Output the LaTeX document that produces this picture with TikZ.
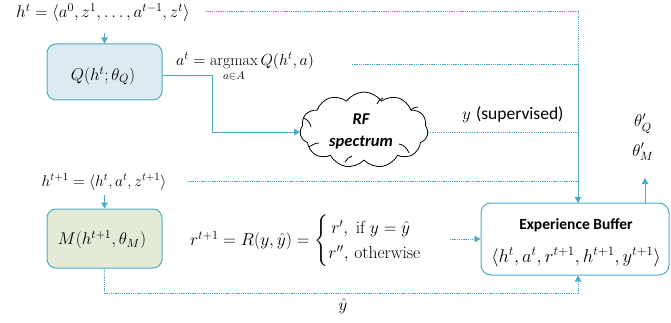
\RequirePackage{fix-cm}
\documentclass[tikz,border=0pt]{standalone}
\usepackage{amsmath}
\usepackage{fontspec}
\usetikzlibrary{shapes.symbols,arrows.meta}
\newfontfamily\carl{Carlito}
\definecolor{accent}{HTML}{4BACC6}
\definecolor{qfill}{HTML}{DCEBF1}
\definecolor{mfill}{HTML}{E3EAD6}
\begin{document}
\begin{tikzpicture}[x=1pt,y=-1pt,
  solidln/.style={draw=accent,line width=0.9pt},
  dotln/.style={draw=accent,line width=0.7pt,dash pattern=on 1.3pt off 0.9pt},
  tip/.style={-{Triangle[width=6.5pt,length=6pt]}},
  boxq/.style={draw=accent,line width=1pt,rounded corners=9pt,fill=qfill,minimum width=115pt,minimum height=56pt},
  boxm/.style={draw=accent,line width=1pt,rounded corners=9pt,fill=mfill,minimum width=115pt,minimum height=59pt},
  boxe/.style={draw=accent,line width=1pt,rounded corners=10pt,minimum width=188pt,minimum height=72pt},
  txt/.style={inner sep=1pt,font=\fontsize{17}{20}\selectfont},
  hook/.style={draw,line width=0.8pt},
]
\useasboundingbox (0,0) rectangle (671,323);
% nodes
\node[txt] (ht) at (103,13) {$h^t=\langle a^0,z^1,\dots,a^{t-1},z^t\rangle$};
\node[boxq] (q) at (104.5,72) {};
\node[txt] (ql) at (103,76) {$Q(h^t;\theta_Q)$};
\node[txt,anchor=west,font=\fontsize{16}{19}\selectfont] (amax) at (175,67) {$a^t=\operatorname*{argmax}\limits_{a\in A}Q(h^t,a)$};
\node[cloud,draw,line width=0.8pt,cloud puffs=11,cloud puff arc=110,aspect=1.7,minimum width=128pt,minimum height=76pt,inner sep=0pt] (rf) at (364,130) {};
\node[align=center,font=\carl\bfseries\itshape\fontsize{16.5}{22}\selectfont] (rft) at (361,131) {RF\\spectrum};
\node[txt,anchor=west] (ysup) at (461,115) {$y$ {\carl\fontsize{17.5}{20}\selectfont (supervised)}};
\node[txt] (thq) at (643,124) {$\theta'_Q$};
\node[txt] (thm) at (643,152) {$\theta'_M$};
\node[txt,font=\fontsize{15.5}{18}\selectfont] (htp) at (104,182) {$h^{t+1}=\langle h^t,a^t,z^{t+1}\rangle$};
\node[boxm] (m) at (104.5,238.5) {};
\node[txt] (ml) at (102,240) {$M(h^{t+1},\theta_M)$};
\node[txt,anchor=west,font=\fontsize{17.5}{21}\selectfont] (rw) at (189,241) {$r^{t+1}=R(y,\hat y)=\begin{cases}\,r',\;\mathrm{if}\;y=\hat y\\ r'',\,\mathrm{otherwise}\end{cases}$};
\node[boxe] (eb) at (575,239) {};
\node[font=\carl\bfseries\fontsize{15.5}{18}\selectfont] (ebt) at (576,225) {Experience Buffer};
\node[txt,font=\fontsize{18.5}{21}\selectfont] (ebtup) at (576,257) {$\langle h^t,a^t,r^{t+1},h^{t+1},y^{t+1}\rangle$};
\node[txt] (yhat) at (343,306) {$\hat y$};
% cloud inner hooks
\draw[hook] (303,118) .. controls (307,119) and (310,122) .. (311,127);
\draw[hook] (309,147) .. controls (312,145) and (315,143) .. (319,143);
\draw[hook] (345,162) .. controls (347,159) and (349,157) .. (352,156);
\draw[hook] (399,144) .. controls (404,145) and (407,148) .. (409,153);
\draw[hook] (377,104) .. controls (378,101) and (380,99) .. (383,98);
\draw[hook] (411,110) .. controls (413,108) and (415,107) .. (418,107);
% coordinates
\coordinate (vtop) at (578,11);
\coordinate (va) at (578,64);
\coordinate (ebin) at (578,203);
\coordinate (aend) at (352,64);
\coordinate (qk) at (212,75);
\coordinate (upto) at (645,178);
\coordinate (rwend) at (450,239);
\coordinate (bot) at (578,293);
% connectors
\draw[solidln,tip] (q.north |- 0,33) -- (q.north);
\draw[dotln] (205,11) -- (vtop) -- (va);
\draw[dotln] (aend) -- (va);
\draw[solidln,tip] (va) -- (ebin);
\draw[solidln,tip] (q.east |- qk) -- (qk) -- (qk |- 0,132) -- (rf.west |- 0,132);
\draw[dotln] (rf.east |- 0,132) -- (va |- 0,132);
\draw[dotln] (188,181) -- (va |- 0,181);
\draw[solidln,tip] (eb.north -| upto) -- (upto);
\draw[solidln,tip] (m.north |- 0,195) -- (m.north);
\draw[dotln,tip] (rwend) -- (eb.west |- rwend);
\draw[dotln,tip] (m.south) -- (m.south |- bot) -- (bot) -- (eb.south -| bot);
\end{tikzpicture}
\end{document}
